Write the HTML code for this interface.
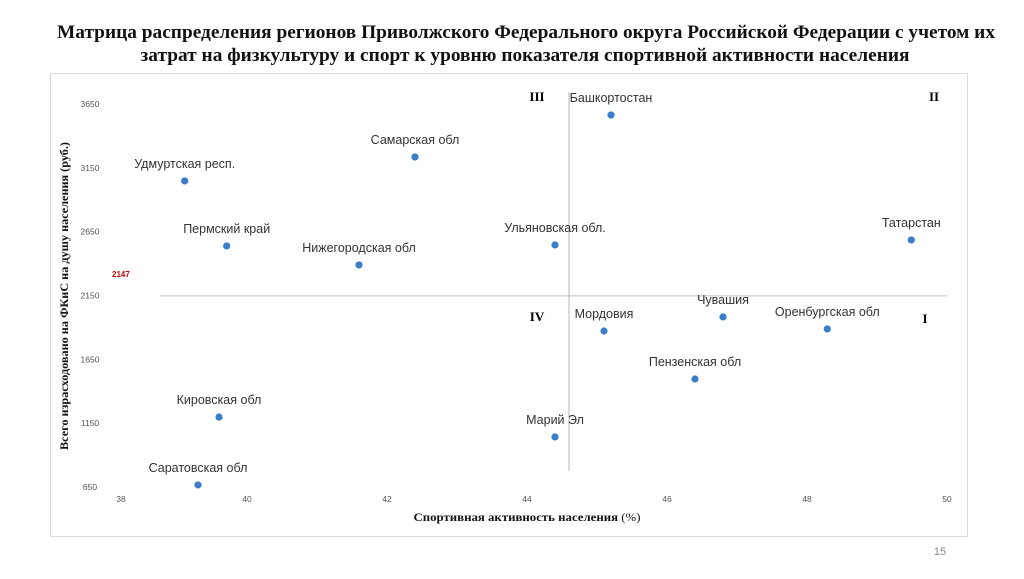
<!DOCTYPE html>
<html><head><meta charset="utf-8"><style>
body{margin:0;width:1024px;height:574px;background:#fff;overflow:hidden;font-family:"Liberation Sans",sans-serif}
</style></head><body>
<svg width="1024" height="574">
<text x="526" y="38" text-anchor="middle" textLength="938" lengthAdjust="spacingAndGlyphs" font-family="Liberation Serif,serif" font-weight="bold" font-size="18.5" fill="#111">Матрица распределения регионов Приволжского Федерального округа Российской Федерации с учетом их</text>
<text x="525" y="61" text-anchor="middle" textLength="769" lengthAdjust="spacingAndGlyphs" font-family="Liberation Serif,serif" font-weight="bold" font-size="18.5" fill="#111">затрат на физкультуру и спорт к уровню показателя спортивной активности населения</text>
<rect x="50.5" y="73.5" width="917" height="463" fill="none" stroke="#d9d9d9"/>
<g id="g"></g>
<text x="527" y="521" text-anchor="middle" textLength="227" lengthAdjust="spacingAndGlyphs" font-family="Liberation Serif,serif" font-weight="bold" font-size="12" fill="#111">Спортивная активность населения <tspan font-weight="normal">(%)</tspan></text>
<text transform="translate(68,296) rotate(-90)" text-anchor="middle" textLength="308" lengthAdjust="spacingAndGlyphs" font-family="Liberation Serif,serif" font-weight="bold" font-size="12" fill="#111">Всего израсходовано на ФКиС на душу населения (руб.)</text>
<text x="112" y="277" font-size="8" font-weight="bold" fill="#c00000">2147</text>
<text x="537" y="101" text-anchor="middle" font-family="Liberation Serif,serif" font-weight="bold" font-size="13">III</text>
<text x="934" y="101" text-anchor="middle" font-family="Liberation Serif,serif" font-weight="bold" font-size="13">II</text>
<text x="537" y="321" text-anchor="middle" font-family="Liberation Serif,serif" font-weight="bold" font-size="13">IV</text>
<text x="925" y="323" text-anchor="middle" font-family="Liberation Serif,serif" font-weight="bold" font-size="13">I</text>
<text x="940" y="555" text-anchor="middle" font-size="11" fill="#888">15</text>
</svg>
<script>
const names=["Удмуртская респ.","Пермский край","Самарская обл","Нижегородская обл","Башкортостан","Ульяновская обл.","Татарстан","Мордовия","Чувашия","Оренбургская обл","Пензенская обл","Кировская обл","Марий Эл","Саратовская обл"];
const activity=[39.11,39.71,42.4,41.6,45.2,44.4,49.49,45.1,46.8,48.29,46.4,39.6,44.4,39.3];
const spending=[3047,2538,3235,2389,3564,2546,2585,1872,1982,1888,1496,1198,1042,666];
const xTicks=[38,40,42,44,46,48,50];
const yTicks=[650,1150,1650,2150,2650,3150,3650];
const xThreshold=44.6, yThreshold=2147;
const X=v=>107+(v-38)*70, Y=v=>487-(v-650)*0.12767;
const g=document.getElementById('g'),NS='http://www.w3.org/2000/svg';
function mk(t,a,txt){const e=document.createElementNS(NS,t);for(const k in a)e.setAttribute(k,a[k]);if(txt!=null)e.textContent=txt;g.appendChild(e);return e;}
xTicks.forEach(t=>{const e=mk('text',{x:t===38?121:X(t),y:502,'text-anchor':'middle','font-size':8.5,fill:'#555'},t);

});
yTicks.forEach(t=>{const e=mk('text',{x:90,y:Y(t)+3,'text-anchor':'middle','font-size':8.5,fill:'#555'},t);

});
let l=mk('line',{x1:160,x2:X(50),y1:Y(yThreshold),y2:Y(yThreshold),stroke:'#bfbfbf'});


l=mk('line',{x1:X(xThreshold),x2:X(xThreshold),y1:92,y2:471,stroke:'#a6b8c8'});


names.forEach((n,i)=>{const cx=X(activity[i]),cy=Y(spending[i]);
const c=mk('circle',{cx:cx,cy:cy,r:3.6,fill:'#3a7dc9'});


const t=mk('text',{x:cx,y:cy-13,'text-anchor':'middle','font-size':12.5,fill:'#333'},n);

});
</script>
</body></html>
